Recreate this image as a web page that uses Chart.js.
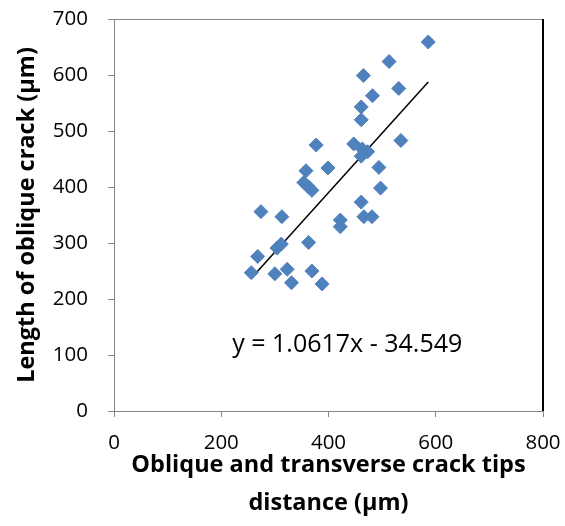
<!DOCTYPE html>
<html lang="en">
<head>
    <meta charset="UTF-8">
    <title>Oblique crack length</title>
    <script src="https://cdn.jsdelivr.net/npm/chart.js"></script>
    <style>
        body {
            margin: 0;
            background: #fff;
        }
        #wrap {
            width: 565px;
            height: 526px;
        }
    </style>
</head>
<body>
    <div id="wrap"><canvas id="myChart"></canvas></div>

    <script>
        // Crack tip distance (x) vs oblique crack length (y), both in µm
        const tipDistance = [586, 513, 465, 531, 482, 461, 461, 377, 535, 447, 463, 473, 461,
            358, 399, 494, 497, 354, 363, 369, 461, 466, 481, 422, 422, 274, 313, 304, 312,
            363, 268, 256, 300, 323, 369, 331, 388];
        const crackLength = [659, 624, 599, 576, 563, 543, 520, 475, 483, 477, 468, 463, 455,
            429, 434, 435, 398, 408, 400, 394, 373, 347, 347, 341, 329, 356, 347, 291, 298,
            301, 276, 247, 245, 253, 250, 229, 227];

        // Linear fit reported on the chart
        const fitSlope = 1.0617;
        const fitIntercept = -34.549;

        const xTicks = [0, 200, 400, 600, 800];
        const yTicks = [0, 100, 200, 300, 400, 500, 600, 700];

        const axisGray = '#868686';
        const fontFamily = "'Open Sans', sans-serif";

        const points = tipDistance.map((x, i) => ({ x: x, y: crackLength[i] }));
        const xMin = Math.min(...tipDistance);
        const xMax = Math.max(...tipDistance);
        const fitLine = [xMin, xMax].map(x => ({ x: x, y: fitSlope * x + fitIntercept }));
        const fitText = 'y = ' + fitSlope + 'x - ' + Math.abs(fitIntercept);

        // frame on top/right of the plot plus the equation text
        const extras = {
            id: 'extras',
            afterDraw(chart) {
                const { ctx, chartArea: a, scales } = chart;
                ctx.save();
                ctx.strokeStyle = axisGray;
                ctx.lineWidth = 1;
                ctx.beginPath();
                ctx.moveTo(a.left, a.top + 0.5);
                ctx.lineTo(a.right, a.top + 0.5);
                ctx.stroke();
                ctx.strokeStyle = '#000';
                ctx.lineWidth = 2;
                ctx.beginPath();
                ctx.moveTo(a.right, a.top);
                ctx.lineTo(a.right, a.bottom);
                ctx.stroke();

                ctx.fillStyle = '#000';
                ctx.font = '25px ' + fontFamily;
                ctx.textAlign = 'center';
                ctx.textBaseline = 'middle';
                ctx.fillText(fitText, scales.x.getPixelForValue(435), scales.y.getPixelForValue(118));
                ctx.restore();
            }
        };

        const ctx = document.getElementById('myChart').getContext('2d');
        const myChart = new Chart(ctx, {
            type: 'scatter',
            data: {
                datasets: [{
                    label: 'Crack length',
                    data: points,
                    pointStyle: 'rectRot',
                    pointRadius: 7,
                    backgroundColor: '#4F81BD',
                    borderColor: '#4F81BD',
                    borderWidth: 1
                }, {
                    type: 'line',
                    label: 'Linear fit',
                    data: fitLine,
                    borderColor: '#000',
                    borderWidth: 1.5,
                    pointRadius: 0,
                    fill: false
                }]
            },
            options: {
                responsive: true,
                maintainAspectRatio: false,
                animation: false,
                layout: { padding: { top: 19, right: 22, left: 0, bottom: 0 } },
                plugins: {
                    legend: { display: false },
                    tooltip: { enabled: false }
                },
                scales: {
                    x: {
                        type: 'linear',
                        min: 0,
                        max: 800,
                        afterBuildTicks: s => { s.ticks = xTicks.map(v => ({ value: v })); },
                        afterFit: s => {
                            s.height = 115;
                            s.paddingLeft = 0;
                            s.paddingRight = 0;
                        },
                        grid: { drawOnChartArea: false, color: axisGray, tickLength: 6 },
                        border: { color: axisGray, width: 1 },
                        ticks: {
                            color: '#000',
                            padding: 14,
                            font: { family: fontFamily, size: 20.5 }
                        },
                        title: {
                            display: true,
                            text: ['Oblique and transverse crack tips', 'distance (\u03bcm)'],
                            color: '#000',
                            font: { family: fontFamily, size: 23.5, weight: 'bold', lineHeight: 1.6 },
                            padding: { top: 0, bottom: 4 }
                        }
                    },
                    y: {
                        type: 'linear',
                        min: 0,
                        max: 700,
                        afterBuildTicks: s => { s.ticks = yTicks.map(v => ({ value: v })); },
                        afterFit: s => {
                            s.width = 114;
                            s.paddingTop = 0;
                            s.paddingBottom = 0;
                        },
                        grid: { drawOnChartArea: false, color: axisGray, tickLength: 6 },
                        border: { color: axisGray, width: 1 },
                        ticks: {
                            color: '#000',
                            padding: 20,
                            font: { family: fontFamily, size: 20.5 }
                        },
                        title: {
                            display: true,
                            text: 'Length of oblique crack (\u03bcm)',
                            color: '#000',
                            font: { family: fontFamily, size: 23.5, weight: 'bold' },
                            padding: { top: 13, bottom: 0 }
                        }
                    }
                }
            },
            plugins: [extras]
        });
    </script>
</body>
</html>
